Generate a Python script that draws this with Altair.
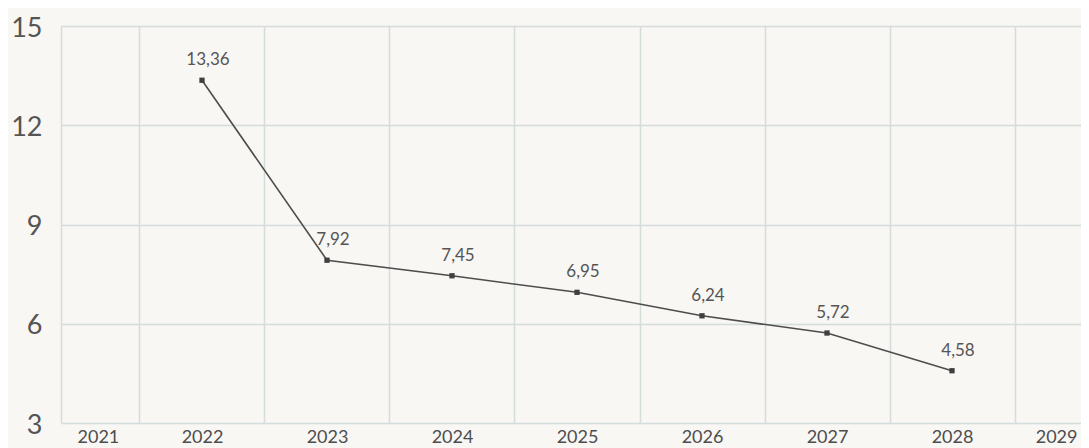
import altair as alt
import pandas as pd

years = [2022, 2023, 2024, 2025, 2026, 2027, 2028]
values = [13.36, 7.92, 7.45, 6.95, 6.24, 5.72, 4.58]
axis_years = [2021, 2022, 2023, 2024, 2025, 2026, 2027, 2028, 2029]
grid_years = [2021.5, 2022.5, 2023.5, 2024.5, 2025.5, 2026.5, 2027.5, 2028.5]
y_ticks = [3, 6, 9, 12, 15]

df = pd.DataFrame({"year": years, "value": values})

FONT = "Lato"
GRID = "#d4dcdc"
INK = "#4d4d4d"

x_scale = alt.Scale(domain=[2020.872, 2029.032], nice=False, zero=False)
y_scale = alt.Scale(domain=[3, 15], nice=False, zero=False)

x_axis = alt.Axis(
    values=sorted(axis_years + grid_years),
    labelExpr="datum.value % 1 === 0 ? format(datum.value, 'd') : ''",
    grid=True,
    gridColor=GRID,
    gridWidth=1.5,
    gridOpacity={"condition": {"test": "datum.value % 1 === 0", "value": 0}, "value": 1},
    ticks=False,
    domain=False,
    labelFont=FONT,
    labelFontSize=18,
    labelColor=INK,
    labelPadding=5,
    labelFlush=20,
    title=None,
)
y_axis = alt.Axis(
    values=y_ticks,
    grid=True,
    gridColor=GRID,
    gridWidth=1.5,
    ticks=False,
    domain=True,
    domainColor=GRID,
    domainWidth=1.5,
    labelFont=FONT,
    labelFontSize=27,
    labelColor="#555555",
    labelPadding=19,
    labelOffset=2,
    title=None,
)

base = alt.Chart(df).encode(
    x=alt.X("year:Q", scale=x_scale, axis=x_axis),
    y=alt.Y("value:Q", scale=y_scale, axis=y_axis),
)

line = base.mark_line(color=INK, strokeWidth=1.6)
points = base.mark_square(color="#3f3f3f", size=28, opacity=1)
labels = base.transform_calculate(
    lbl="replace(format(datum.value, '.2f'), '.', ',')"
).mark_text(
    font=FONT, fontSize=17, color="#555555", dy=-20, dx=6, baseline="middle"
).encode(text="lbl:N")

chart = (
    alt.layer(line, points, labels)
    .properties(
        width=1020,
        height=397,
        background="#f9f7f4",
        padding={"left": 53, "top": 18, "right": 0, "bottom": 25},
        autosize=alt.AutoSizeParams(type="none"),
    )
    .configure_view(stroke=None)
)

chart.save("out.html", embed_options={"renderer": "svg", "actions": False})
